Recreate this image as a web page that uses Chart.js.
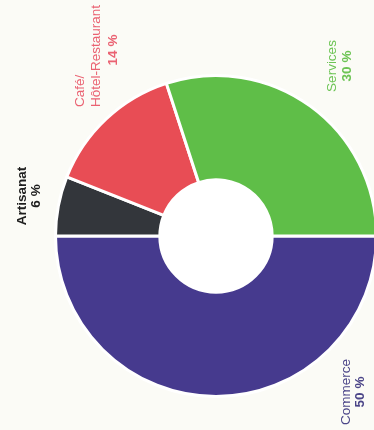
<!DOCTYPE html>
<html>
<head>
<meta charset="utf-8">
<script src="https://cdn.jsdelivr.net/npm/chart.js@4"></script>
<style>
  html, body { margin: 0; padding: 0; background: #fbfbf6; overflow: hidden; }
  #wrap { width: 378px; height: 430px; position: relative; }
</style>
</head>
<body>
<div id="wrap"><canvas id="sectors"></canvas></div>
<script>
// répartition des entreprises par secteur (%)
const categories = ['Commerce', 'Artisanat', 'Café/\nHôtel-Restaurant', 'Services'];
const values = [50, 6, 14, 30];
const sliceColors = ['#463a8e', '#33363b', '#e84d55', '#5fbe48'];
const labelColors = ['#4b4588', '#1e1e1e', '#ea6272', '#6cc454'];

// where each rotated label sits, relative to the ring centre (px)
// lines run bottom-to-top; dx = column of the first line, dy = point the text is aligned on
const labelLayout = [
  { dx: 130, dy: 156, align: 'center', step: 14, boldName: false },
  { dx: -194, dy: -40, align: 'center', step: 14, boldName: true },
  { dx: -136, dy: -129, align: 'left', step: 16.5, boldName: false, pctAlign: 'center', pctDy: -186 },
  { dx: 116, dy: -170, align: 'center', step: 15, boldName: false }
];

const fontFamily = '"Liberation Sans", Arial, sans-serif';

const ringLabels = {
  id: 'ringLabels',
  beforeDatasetsDraw(chart) {
    // white hole in the middle
    const arc = chart.getDatasetMeta(0).data[0];
    if (!arc) return;
    const ctx = chart.ctx;
    ctx.save();
    ctx.fillStyle = '#ffffff';
    ctx.beginPath();
    ctx.arc(arc.x, arc.y, arc.innerRadius, 0, Math.PI * 2);
    ctx.fill();
    ctx.restore();
  },
  afterDatasetsDraw(chart) {
    const meta = chart.getDatasetMeta(0);
    const ctx = chart.ctx;
    const cx = meta.data[0].x;
    const cy = meta.data[0].y;
    ctx.save();
    ctx.textBaseline = 'middle';
    categories.forEach((cat, i) => {
      const lay = labelLayout[i];
      const lines = cat.split('\n');
      ctx.fillStyle = labelColors[i];
      const draw = (txt, x, y, bold, align) => {
        ctx.save();
        ctx.translate(x, y);
        ctx.rotate(-Math.PI / 2);
        ctx.textAlign = align;
        ctx.font = (bold ? 'bold ' : '') + '13.5px ' + fontFamily;
        ctx.fillText(txt, 0, 0);
        ctx.restore();
      };
      lines.forEach((ln, k) => {
        draw(ln, cx + lay.dx + k * lay.step, cy + lay.dy, lay.boldName, lay.align);
      });
      const px = cx + lay.dx + lines.length * lay.step;
      const py = cy + (lay.pctDy !== undefined ? lay.pctDy : lay.dy);
      draw(values[i] + ' %', px, py, true, lay.pctAlign || lay.align);
    });
    ctx.restore();
  }
};

new Chart(document.getElementById('sectors'), {
  type: 'doughnut',
  data: {
    labels: categories,
    datasets: [{
      data: values,
      backgroundColor: sliceColors,
      borderColor: '#ffffff',
      borderWidth: 3,
      hoverOffset: 0
    }]
  },
  options: {
    responsive: true,
    maintainAspectRatio: false,
    animation: false,
    rotation: 90,
    cutout: '35%',
    layout: { padding: { left: 54, right: 0, top: 74, bottom: 32 } },
    plugins: {
      legend: { display: false },
      tooltip: { enabled: false }
    }
  },
  plugins: [ringLabels]
});
</script>
</body>
</html>
